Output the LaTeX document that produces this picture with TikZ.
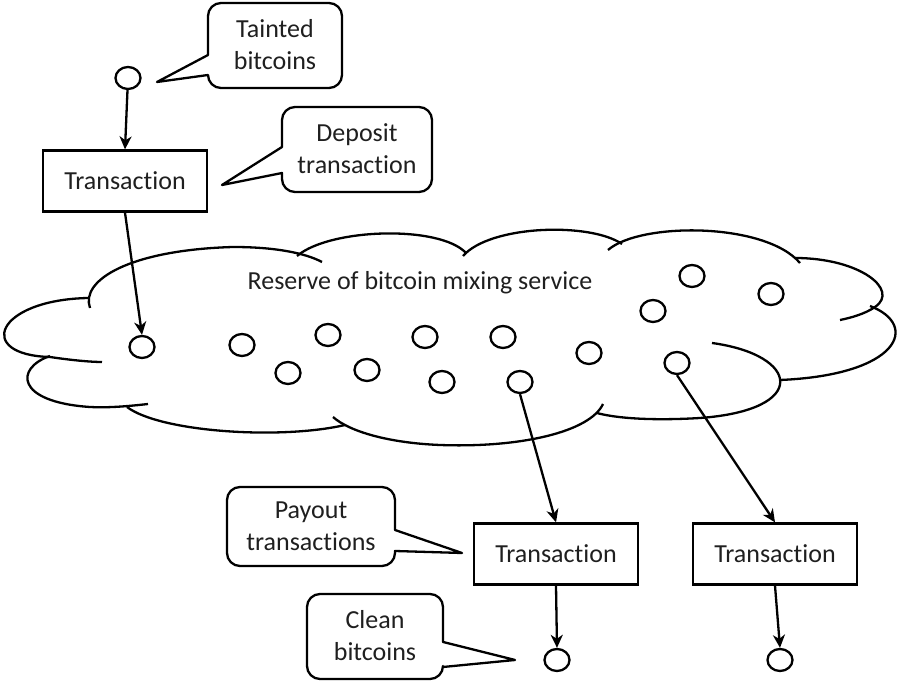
\documentclass[tikz,border=0pt]{standalone}
\usepackage{fontspec}
\setmainfont{Carlito}[Ligatures=NoCommon]
\usepackage{tikz}
\usetikzlibrary{arrows.meta, positioning, shapes.geometric}

\begin{document}
\begin{tikzpicture}[x=1pt, y=1pt, line width=2.3pt,
    txbox/.style={draw, rectangle, minimum width=164pt, minimum height=61pt, align=center},
    coin/.style={draw, ellipse, minimum width=25pt, minimum height=22pt, inner sep=0pt},
    bubble/.style={draw, line join=round},
    bubbletext/.style={align=center, inner sep=0pt},
    flow/.style={-{Stealth[length=13pt, width=12pt, inset=4pt]}},
    every node/.style={font=\fontsize{26}{32}\selectfont, text=black!88}]

    \useasboundingbox (0,0) rectangle (905,688);

    % Cloud (reserve of the mixing service)
    \draw (90,380) .. controls (80,408) and (130,438) .. (233,441) .. controls (275,441) and (305,435) .. (322,426);
    \draw (297,432) .. controls (330,460) and (440,463) .. (466,435);
    \draw (463,432) .. controls (490,463) and (590,466) .. (622,444);
    \draw (608,438) .. controls (640,466) and (765,466) .. (800,425);
    \draw (795,430) .. controls (860,430) and (900,398) .. (875,381) .. controls (865,374) and (850,370) .. (840,368);
    \draw (870,382) .. controls (920,363) and (900,313) .. (780,308);
    \draw (712,345) .. controls (800,333) and (810,278) .. (700,270) .. controls (650,267) and (615,270) .. (597,275);
    \draw (603,284) .. controls (590,256) and (520,240) .. (440,243) .. controls (390,245) and (350,256) .. (333,271);
    \draw (345,263) .. controls (280,248) and (160,256) .. (127,281);
    \draw (50,332) .. controls (15,320) and (15,286) .. (90,281) .. controls (110,280) and (130,282) .. (148,284);
    \draw (88,390) .. controls (-5,388) and (-25,333) .. (50,331) .. controls (70,328) and (90,326) .. (102,326);

    \node (reserve) at (420,405) {Reserve of bitcoin mixing service};

    % Coins in the reserve
    \node[coin] (c1) at (142,341) {};
    \node[coin] (c2) at (242,343) {};
    \node[coin] (c3) at (288,315) {};
    \node[coin] (c4) at (328,353) {};
    \node[coin] (c5) at (367,318) {};
    \node[coin] (c6) at (425,351) {};
    \node[coin] (c7) at (442,306) {};
    \node[coin] (c8) at (503,351) {};
    \node[coin] (c9) at (520,306) {};
    \node[coin] (c10) at (589,335) {};
    \node[coin] (c11) at (653,377) {};
    \node[coin] (c12) at (692,412) {};
    \node[coin] (c13) at (771,394) {};
    \node[coin] (c14) at (677,325) {};

    % Deposit side
    \node[coin] (tainted) at (128,610) {};
    \node[txbox] (deposittx) at (125,507) {Transaction};
    \draw[flow] (tainted) -- (deposittx.north);
    \draw[flow] (deposittx.south) -- (c1.north);

    % Payout side
    \node[txbox] (payout1) at (556,134) {Transaction};
    \node[txbox] (payout2) at (775,134) {Transaction};
    \node[coin] (clean1) at (557,28) {};
    \node[coin] (clean2) at (780,28) {};
    \draw[flow] (c9.south) -- (payout1.north);
    \draw[flow] (c14.south) -- (payout2.north);
    \draw[flow] (payout1.south) -- (clean1.north);
    \draw[flow] (payout2.south) -- (clean2.north);

    % Callouts
    \draw[bubble] (208,633) [rounded corners=13pt] -- (208,685) -- (342,685) -- (342,600) -- (208,600) [sharp corners] -- (208,613) -- (157,606) -- cycle;
    \node[bubbletext] (taintedlabel) at (275,643) {Tainted\\bitcoins};

    \draw[bubble] (282,541) [rounded corners=13pt] -- (282,581) -- (432,581) -- (432,496) -- (282,496) [sharp corners] -- (282,515) -- (222,503) -- cycle;
    \node[bubbletext] (depositlabel) at (357,539) {Deposit\\transaction};

    \draw[bubble] (395,137) [rounded corners=13pt] -- (395,122) -- (227,122) -- (227,201) -- (395,201) [sharp corners] -- (395,158) -- (462,135) -- cycle;
    \node[bubbletext] (payoutlabel) at (311,162) {Payout\\transactions};

    \draw[bubble] (443,21) [rounded corners=13pt] -- (443,9) -- (307,9) -- (307,94) -- (443,94) [sharp corners] -- (443,46) -- (515,28) -- cycle;
    \node[bubbletext] (cleanlabel) at (375,52) {Clean\\bitcoins};

\end{tikzpicture}
\end{document}
